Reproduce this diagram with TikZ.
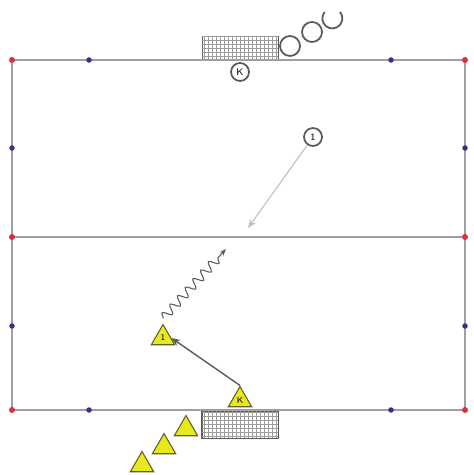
\documentclass[tikz,border=0pt]{standalone}
\usetikzlibrary{shapes.geometric,arrows.meta,decorations.pathmorphing}
\definecolor{linegray}{RGB}{160,160,160}
\definecolor{cornerred}{RGB}{222,45,60}
\definecolor{markblue}{RGB}{50,50,140}
\definecolor{coneyellow}{RGB}{232,232,30}
\definecolor{coneedge}{RGB}{95,95,40}
\definecolor{inkgray}{RGB}{90,90,90}
\tikzset{
  fieldline/.style={draw=linegray, line width=1.1pt},
  reddot/.style={circle, fill=cornerred, inner sep=0pt, minimum size=0.12cm},
  bluedot/.style={circle, fill=markblue, inner sep=0pt, minimum size=0.11cm},
  goalbox/.style={rectangle, draw=inkgray, line width=0.5pt, inner sep=0pt,
                  minimum width=1.52cm},
  arr/.style={-{Stealth[length=5pt,width=4pt]}, thick, color=inkgray},
}
\begin{document}
\begin{tikzpicture}[x=0.02cm, y=-0.02cm,
    cone/.style={regular polygon, regular polygon sides=3, fill=coneyellow,
                 draw=coneedge, line width=0.6pt, inner sep=0pt,
                 minimum size=0.54cm, font=\fontsize{5}{5}\selectfont\sffamily},
    player/.style={circle, draw=inkgray, line width=1pt, inner sep=0pt,
                   minimum size=0.36cm, font=\fontsize{5.5}{5.5}\selectfont\sffamily},
    ball/.style={circle, draw=inkgray, line width=1pt, inner sep=0pt, minimum size=0.4cm},
    passarr/.style={-{Stealth[length=5pt,width=4pt]}, line width=0.6pt, color=linegray!70},
    wavy/.style={-{Stealth[length=4pt,width=3pt]}, line width=0.6pt, color=inkgray,
                 decorate, decoration={snake, amplitude=0.9mm, segment length=2.3mm,
                 post length=1.2mm}}
  ]
    \useasboundingbox (0,0) rectangle (473,475);
    % goals
    \node[goalbox, minimum height=0.48cm] (topgoal) at (240,48) {};
    \draw[inkgray!60, line width=0.3pt, step=0.08cm] (topgoal.south west) grid (topgoal.north east);
    \node[goalbox, minimum height=0.54cm] (botgoal) at (240,424.5) {};
    \draw[inkgray!60, line width=0.3pt, step=0.08cm] (botgoal.south west) grid (botgoal.north east);
    \draw[inkgray, line width=0.6pt] (botgoal.south west) rectangle (botgoal.north east);
    % field
    \draw[fieldline] (12,60) rectangle (465,410);
    \draw[fieldline] (12,237) -- (465,237);
    \foreach \x/\y in {12/60, 465/60, 12/237, 465/237, 12/410, 465/410}
      \node[reddot] at (\x,\y) {};
    \foreach \x/\y in {89/60, 391/60, 89/410, 391/410, 12/148, 465/148, 12/326, 465/326}
      \node[bluedot] at (\x,\y) {};
    % balls
    \node[ball] (ballA) at (290,46) {};
    \node[ball] (ballB) at (312,32) {};
    \node[ball, draw=none] (ballC) at (333,19) {};
    \draw[inkgray, line width=1pt] (ballC.140) arc[start angle=140, end angle=400, radius=0.2cm];
    % players
    \node[player] (keeper) at (240,72) {K};
    \node[player] (one) at (313,137) {1};
    \node[cone] (kcone) at (240,400) {K};
    \node[cone] (onecone) at (163,338) {1};
    \node[cone] (coneA) at (186,429) {};
    \node[cone] (coneB) at (164,447) {};
    \node[cone] (coneC) at (142,465) {};
    \coordinate (passend) at (248,228);
    \coordinate (shotend) at (226,249);
    \draw[passarr] (one) -- (passend);
    \draw[arr] (kcone.north) -- (onecone.east);
    \draw[wavy] ([yshift=0.1cm]onecone.north) -- (shotend);
  \end{tikzpicture}
\end{document}
